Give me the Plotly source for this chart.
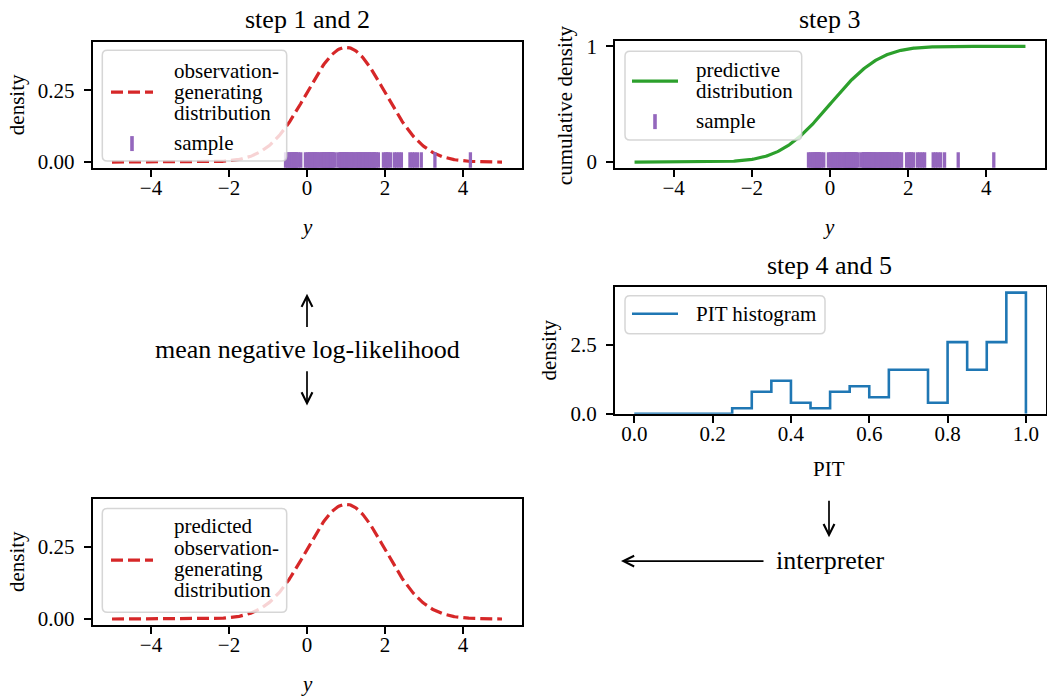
import numpy as np
import plotly.graph_objects as go
from math import erf

# ---- data -------------------------------------------------------------
# observation-generating distribution N(obs_mu, obs_sigma)
obs_mu, obs_sigma = 1.0, 1.0
# predictive distribution N(pred_mu, pred_sigma)
pred_mu, pred_sigma = 0.0, 1.0
y_min, y_max = -5.0, 5.0

# drawn sample (100 observations)
sample = [
    -0.55,
    -0.50, -0.46, -0.42, -0.39,
    -0.37, -0.34, -0.32, -0.30, -0.28, -0.26,
    -0.22, -0.16,
    -0.04,
    0.01, 0.05, 0.08, 0.11,
    0.14, 0.17, 0.20, 0.22, 0.25,
    0.28, 0.32, 0.36,
    0.39, 0.41, 0.43, 0.45, 0.47, 0.49, 0.51, 0.52,
    0.54, 0.55, 0.57, 0.59, 0.61, 0.63, 0.65, 0.67,
    0.72, 0.80,
    0.85, 0.86, 0.88, 0.89, 0.91, 0.92, 0.94, 0.95, 0.97, 0.98, 1.00, 1.01, 1.03,
    1.05, 1.08, 1.11, 1.14, 1.17, 1.20, 1.24, 1.27,
    1.30, 1.33, 1.35, 1.38, 1.41, 1.43, 1.46, 1.49, 1.51, 1.54, 1.57, 1.60, 1.63,
    1.66, 1.70, 1.72, 1.74, 1.78, 1.83, 1.96, 2.02, 2.05, 2.08, 2.14,
    2.24, 2.30, 2.36, 2.42, 2.64, 2.70, 2.76, 2.83, 2.93, 3.28, 4.19,
]

# PIT histogram: 20 equal bins on [0, 1], density per bin
pit_edges = [round(0.05 * i, 2) for i in range(21)]
pit_density = [0.0, 0.0, 0.0, 0.0, 0.0, 0.2, 0.8, 1.2, 0.4, 0.2,
               0.8, 1.0, 0.6, 1.6, 1.6, 0.4, 2.6, 1.6, 2.6, 4.4]

# tick labels
y_ticks = [-4, -2, 0, 2, 4]
y_ticktext = ["\u22124", "\u22122", "0", "2", "4"]
dens_ticks = [0.0, 0.25]
dens_ticktext = ["0.00", "0.25"]
cdf_ticks = [0, 1]
cdf_ticktext = ["0", "1"]
pit_ticks = [0.0, 0.2, 0.4, 0.6, 0.8, 1.0]
pit_ticktext = ["0.0", "0.2", "0.4", "0.6", "0.8", "1.0"]
pit_dens_ticks = [0.0, 2.5]
pit_dens_ticktext = ["0.0", "2.5"]

# ---- derived curves ----------------------------------------------------
grid = np.linspace(y_min, y_max, 400)
obs_pdf = np.exp(-0.5 * ((grid - obs_mu) / obs_sigma) ** 2) / (obs_sigma * np.sqrt(2 * np.pi))
pred_cdf = np.array([0.5 * (1 + erf((v - pred_mu) / (pred_sigma * np.sqrt(2)))) for v in grid])

# step outline of the histogram: (e0,0) up to d0, across, ..., down at e20
step_x = [pit_edges[0]] + pit_edges[1:] + [pit_edges[-1]]
step_y = [0.0] + pit_density + [0.0]

# ---- styling ------------------------------------------------------------
W = 1047
H = 712               # figure height
SY, OY = 0.977, 4.6   # vertical scale / offset between layout units and page pixels
FONT = "Liberation Serif"
RED, GREEN, PURPLE, BLUE = "#d62728", "#2ca02c", "#9467bd", "#1f77b4"
TICK_SIZE = 21
TITLE_SIZE = 26


def fx(px):
    return px / W


def fy(py):
    return 1 - ((py - OY) / SY) / H


def axis_style(is_x, **kw):
    base = dict(
        showline=True, mirror=True, linecolor="black", linewidth=1.6,
        ticks="outside", ticklen=7, tickwidth=1.6, tickcolor="black",
        showgrid=False, zeroline=False,
        tickfont=dict(family=FONT, size=TICK_SIZE, color="black"),
        ticklabelstandoff=-7 if is_x else 5,
    )
    base.update(kw)
    return base


fig = go.Figure()

rug_marker = dict(symbol="line-ns", size=14, color=PURPLE,
                  line=dict(width=3.3, color=PURPLE))

# panel 1: observation-generating distribution and sample
fig.add_trace(go.Scatter(
    x=grid, y=obs_pdf, mode="lines", xaxis="x", yaxis="y",
    line=dict(color=RED, width=3.2, dash="12px,5px"), showlegend=False,
))
fig.add_trace(go.Scatter(
    x=sample, y=[0] * len(sample), mode="markers", xaxis="x", yaxis="y",
    marker=rug_marker, showlegend=False,
))

# panel 2: predictive distribution (CDF) and sample
fig.add_trace(go.Scatter(
    x=grid, y=pred_cdf, mode="lines", xaxis="x2", yaxis="y2",
    line=dict(color=GREEN, width=3.2), showlegend=False,
))
fig.add_trace(go.Scatter(
    x=sample, y=[0] * len(sample), mode="markers", xaxis="x2", yaxis="y2",
    marker=rug_marker, showlegend=False,
))

# panel 3: PIT histogram
fig.add_trace(go.Scatter(
    x=step_x, y=step_y, mode="lines", line_shape="vh", xaxis="x3", yaxis="y3",
    line=dict(color=BLUE, width=2.6), showlegend=False,
))

# panel 4: predicted observation-generating distribution
fig.add_trace(go.Scatter(
    x=grid, y=obs_pdf, mode="lines", xaxis="x4", yaxis="y4",
    line=dict(color=RED, width=3.2, dash="12px,5px"), showlegend=False,
))

pdf_range = [-0.05 * obs_pdf.max(), 1.05 * obs_pdf.max()]

fig.update_layout(
    width=W, height=H, margin=dict(l=0, r=0, t=0, b=0),
    paper_bgcolor="white", plot_bgcolor="white",
    font=dict(family=FONT, color="black"),
    showlegend=False,
    xaxis=axis_style(True, domain=[fx(92.5), fx(521.5)], range=[-5.5, 5.5],
                     tickvals=y_ticks, ticktext=y_ticktext, anchor="y"),
    yaxis=axis_style(False, domain=[fy(166.8), fy(40.3)], range=pdf_range,
                     tickvals=dens_ticks, ticktext=dens_ticktext, anchor="x"),
    xaxis2=axis_style(True, domain=[fx(615), fx(1045)], range=[-5.5, 5.5],
                      tickvals=y_ticks, ticktext=y_ticktext, anchor="y2"),
    yaxis2=axis_style(False, domain=[fy(166.8), fy(39.2)], range=[-0.05, 1.05],
                      tickvals=cdf_ticks, ticktext=cdf_ticktext, anchor="x2"),
    xaxis3=axis_style(True, domain=[fx(614.7), fx(1045.5)], range=[-0.05, 1.05],
                      tickvals=pit_ticks, ticktext=pit_ticktext, anchor="y3"),
    yaxis3=axis_style(False, domain=[fy(413.3), fy(285.8)],
                      range=[0, 1.05 * max(pit_density)],
                      tickvals=pit_dens_ticks, ticktext=pit_dens_ticktext, anchor="x3"),
    xaxis4=axis_style(True, domain=[fx(92.5), fx(521.5)], range=[-5.5, 5.5],
                      tickvals=y_ticks, ticktext=y_ticktext, anchor="y4"),
    yaxis4=axis_style(False, domain=[fy(624.8), fy(498.3)], range=pdf_range,
                      tickvals=dens_ticks, ticktext=dens_ticktext, anchor="x4"),
)

annotations = []
shapes = []


def text(px, py, s, size=TICK_SIZE, angle=0, anchor="center"):
    annotations.append(dict(
        x=fx(px), y=fy(py), xref="paper", yref="paper", text=s, showarrow=False,
        xanchor=anchor, yanchor="middle", textangle=angle,
        font=dict(family=FONT, size=size, color="black"),
    ))


def arrow(tip_px, tip_py, tail_px, tail_py):
    annotations.append(dict(
        x=fx(tip_px), y=fy(tip_py), xref="paper", yref="paper", text="",
        showarrow=True, arrowhead=5, arrowsize=1.25, arrowwidth=1.7,
        arrowcolor="black", ax=tail_px - tip_px, ay=(tail_py - tip_py) / SY,
        axref="pixel", ayref="pixel", standoff=0,
    ))


def legend_box(x0, y0, x1, y1, r=5):
    # rounded frame in paper coordinates
    X = lambda v: f"{fx(v):.5f}"
    Y = lambda v: f"{fy(v):.5f}"
    path = (
        f"M{X(x0 + r)},{Y(y0)} L{X(x1 - r)},{Y(y0)} Q{X(x1)},{Y(y0)} {X(x1)},{Y(y0 + r)} "
        f"L{X(x1)},{Y(y1 - r)} Q{X(x1)},{Y(y1)} {X(x1 - r)},{Y(y1)} "
        f"L{X(x0 + r)},{Y(y1)} Q{X(x0)},{Y(y1)} {X(x0)},{Y(y1 - r)} "
        f"L{X(x0)},{Y(y0 + r)} Q{X(x0)},{Y(y0)} {X(x0 + r)},{Y(y0)} Z"
    )
    shapes.append(dict(type="path", path=path, xref="paper", yref="paper",
                       fillcolor="rgba(255,255,255,0.8)",
                       line=dict(color="rgba(204,204,204,0.8)", width=1.5),
                       layer="above"))


def legend_line(x0, x1, y, color, width, dash="solid"):
    shapes.append(dict(type="line", xref="paper", yref="paper",
                       x0=fx(x0), x1=fx(x1), y0=fy(y), y1=fy(y),
                       line=dict(color=color, width=width, dash=dash), layer="above"))


def legend_tick(x, y0, y1, color):
    shapes.append(dict(type="line", xref="paper", yref="paper",
                       x0=fx(x), x1=fx(x), y0=fy(y0), y1=fy(y1),
                       line=dict(color=color, width=3.6), layer="above"))


# legend: panel 1
legend_box(102.3, 49, 286.7, 160)
legend_line(111, 153, 91, RED, 3.2, "12px,5px")
legend_tick(132, 135, 150, PURPLE)
for s, yy in [("observation-", 70), ("generating", 91), ("distribution", 112), ("sample", 141.5)]:
    text(171.7, yy, s, anchor="left")

# legend: panel 2
legend_box(625, 50, 801.7, 139)
legend_line(632, 678, 80, GREEN, 3.2)
legend_tick(655, 113, 128, PURPLE)
for s, yy in [("predictive", 68.5), ("distribution", 90), ("sample", 120)]:
    text(694.3, yy, s, anchor="left")

# legend: panel 3
legend_box(625, 295, 825, 333)
legend_line(632, 678, 313, BLUE, 2.6)
text(694.3, 313, "PIT histogram", anchor="left")

# legend: panel 4
legend_box(102.3, 508.3, 286.7, 612.3)
legend_line(111, 153, 560, RED, 3.2, "12px,5px")
for s, yy in [("predicted", 526), ("observation-", 548), ("generating", 569), ("distribution", 590)]:
    text(171.7, yy, s, anchor="left")

# subplot titles
text(307, 18, "step 1 and 2", TITLE_SIZE)
text(829, 18, "step 3", TITLE_SIZE)
text(829, 265, "step 4 and 5", TITLE_SIZE)

# axis labels
text(307, 226, "<i>y</i>")
text(829, 226, "<i>y</i>")
text(307, 684, "<i>y</i>")
text(829, 469, "PIT")
text(17, 104, "density", angle=-90)
text(565, 104, "cumulative density", angle=-90)
text(549, 350, "density", angle=-90)
text(17, 562, "density", angle=-90)

# flow annotations
text(307, 349, "mean negative log-likelihood", TITLE_SIZE)
arrow(307, 293, 307, 327)
arrow(307, 405, 307, 370)
text(830, 560, "interpreter", TITLE_SIZE)
arrow(829, 537, 829, 500)
arrow(621, 561, 765, 561)

fig.update_layout(annotations=annotations, shapes=shapes)

fig.write_html("out.html")
